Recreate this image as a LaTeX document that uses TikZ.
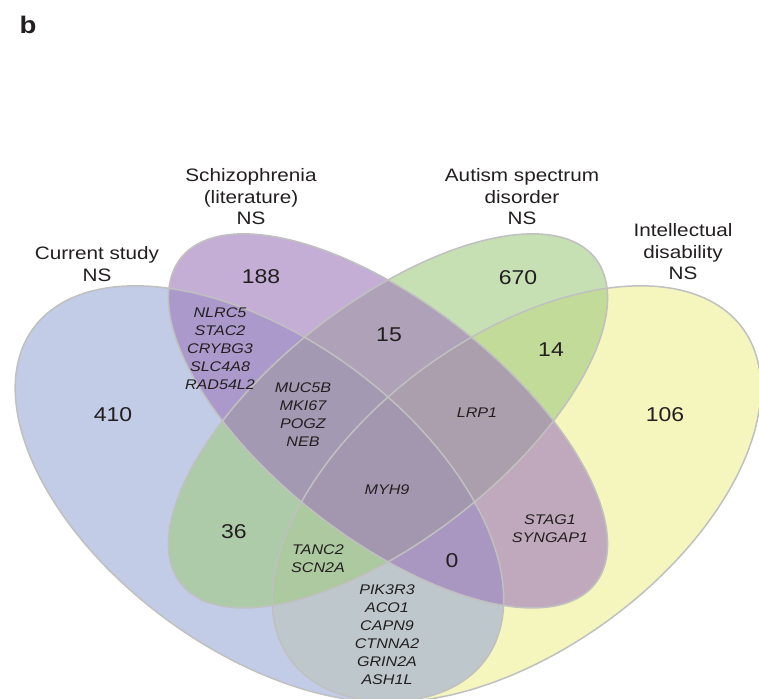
\documentclass[tikz,border=0pt]{standalone}
\usepackage{fontspec}
\setmainfont{Liberation Sans}[FakeStretch=1.15]
\definecolor{cblue}{RGB}{153,170,213}
\definecolor{cpurp}{RGB}{158,120,187}
\definecolor{cgreen}{RGB}{160,203,130}
\definecolor{cyell}{RGB}{238,238,147}
\definecolor{txt}{RGB}{35,31,32}
\definecolor{edge}{RGB}{192,192,192}
\newcommand{\vennshape}[6]{plot[smooth cycle, domain=0:355, samples=72, variable=\t] ({#1+(#3)*cos(\t)+(#5)*sin(\t)}, {#2+(#4)*cos(\t)+(#6)*sin(\t)})}
\tikzset{
  setfill/.style={fill=#1, fill opacity=0.6},
  setedge/.style={draw=edge, line width=0.75pt},
  lab/.style={font=\fontsize{9}{10.75}\selectfont, align=center, text=txt, inner sep=0pt},
  num/.style={font=\fontsize{10}{12}\selectfont, text=txt, inner sep=0pt},
  gene/.style={font=\fontsize{7}{9}\selectfont\itshape, align=center, text=txt, inner sep=0pt},
}
\begin{document}
\begin{tikzpicture}[x=0.5pt, y=-0.5pt]
\useasboundingbox (0,0) rectangle (759,699);
% fills
\fill[setfill=cyell]  \vennshape{516.55}{493.9}{212.1}{-180.7}{-121.2}{-103.2};
\fill[setfill=cblue]  \vennshape{259.45}{493.9}{-212.1}{-180.7}{-121.2}{103.2};
\fill[setfill=cgreen] \vennshape{388}{420.9}{199.9}{-170.3}{-90.9}{-77.4};
\fill[setfill=cpurp]  \vennshape{388}{420.9}{-199.9}{-170.3}{-90.9}{77.4};
% outlines
\draw[setedge] \vennshape{516.55}{493.9}{212.1}{-180.7}{-121.2}{-103.2};
\draw[setedge] \vennshape{259.45}{493.9}{-212.1}{-180.7}{-121.2}{103.2};
\draw[setedge] \vennshape{388}{420.9}{199.9}{-170.3}{-90.9}{-77.4};
\draw[setedge] \vennshape{388}{420.9}{-199.9}{-170.3}{-90.9}{77.4};
% panel letter
\node[font=\fontsize{12}{14}\selectfont\bfseries, text=txt, inner sep=0pt] (panel) at (28,25) {b};
% set labels
\node[lab] (lcs) at (97,264) {Current study\\NS};
\node[lab] (lsz) at (251,197) {Schizophrenia\\(literature)\\NS};
\node[lab] (lasd) at (522,197) {Autism spectrum\\disorder\\NS};
\node[lab] (lid) at (683,252) {Intellectual\\disability\\NS};
% counts
\node[num] (n410) at (113,415) {410};
\node[num] (n188) at (261,277) {188};
\node[num] (n670) at (518,278) {670};
\node[num] (n106) at (665,415) {106};
\node[num] (n15) at (389,335) {15};
\node[num] (n14) at (551,350) {14};
\node[num] (n36) at (234,532) {36};
\node[num] (n0) at (452,561) {0};
% genes
\node[gene] (g1) at (220,349) {NLRC5\\STAC2\\CRYBG3\\SLC4A8\\RAD54L2};
\node[gene] (g2) at (303,415) {MUC5B\\MKI67\\POGZ\\NEB};
\node[gene] (g3) at (477,413) {LRP1};
\node[gene] (g4) at (387,490) {MYH9};
\node[gene] (g5) at (550,529) {STAG1\\SYNGAP1};
\node[gene] (g6) at (318,559) {TANC2\\SCN2A};
\node[gene] (g7) at (387,635) {PIK3R3\\ACO1\\CAPN9\\CTNNA2\\GRIN2A\\ASH1L};
\end{tikzpicture}
\end{document}
